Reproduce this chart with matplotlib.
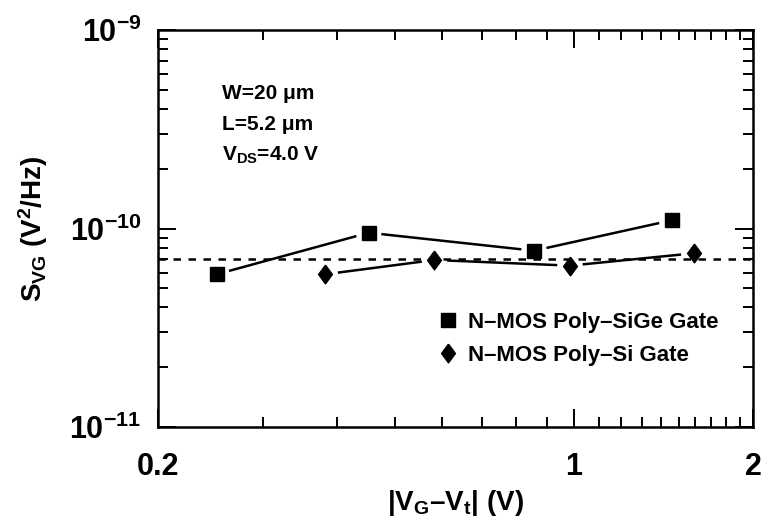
import numpy as np
import matplotlib
matplotlib.use("Agg")
import matplotlib.pyplot as plt
from matplotlib import font_manager
from matplotlib.ticker import FixedLocator, FixedFormatter, LogLocator, NullFormatter
from matplotlib.lines import Line2D

# pick a narrow bold sans if we have one
fam = "Liberation Sans"
try:
    font_manager.findfont("Liberation Sans Narrow", fallback_to_default=False)
    fam = "Liberation Sans Narrow"
except Exception:
    pass

plt.rcParams['font.family'] = [fam, 'DejaVu Sans']
plt.rcParams['font.weight'] = 'bold'
plt.rcParams['mathtext.fontset'] = 'custom'
plt.rcParams['mathtext.rm'] = fam + ':bold'
plt.rcParams['mathtext.it'] = fam + ':bold'
plt.rcParams['mathtext.bf'] = fam + ':bold'

# data
sige_x = [0.251, 0.452, 0.857, 1.46]
sige_y = [5.88e-11, 9.52e-11, 7.73e-11, 1.10e-10]
si_x = [0.382, 0.583, 0.985, 1.59]
si_y = [5.88e-11, 6.94e-11, 6.50e-11, 7.50e-11]
ref_level = 7.0e-11

x_ticks = [0.2, 1, 2]
x_tick_labels = ["0.2", "1", "2"]
x_minor = [0.3, 0.4, 0.5, 0.6, 0.7, 0.8, 0.9, 1.1, 1.2, 1.3, 1.4, 1.5, 1.6, 1.7, 1.8, 1.9]
y_ticks = [1e-11, 1e-10, 1e-9]
y_tick_labels = [r"$10^{-11}$", r"$10^{-10}$", r"$10^{-9}$"]

fig = plt.figure(figsize=(7.64, 5.27), dpi=100)
ax = fig.add_axes([158/764, 1-427/527, (753-158)/764, (427-30)/527])
ax.set_xscale('log')
ax.set_yscale('log')
ax.set_xlim(0.2, 2)
ax.set_ylim(1e-11, 1e-9)

diamond = [(0, 1), (0.74, 0), (0, -1), (-0.74, 0), (0, 1)]

ax.axhline(ref_level, color='black', lw=1.8, ls=(0, (3, 3)), zorder=1)


def gap_lines(xs, ys, gap=14):
    pts = ax.transData.transform(np.column_stack([xs, ys]))
    inv = ax.transData.inverted()
    for a, b in zip(pts[:-1], pts[1:]):
        d = b - a
        u = d / np.hypot(*d)
        seg = inv.transform(np.array([a + u*gap, b - u*gap]))
        ax.plot(seg[:, 0], seg[:, 1], color='black', lw=1.8, zorder=2)


gap_lines(sige_x, sige_y)
gap_lines(si_x, si_y)
ax.plot(sige_x, sige_y, ls='none', marker='s', ms=10, color='black', zorder=3)
ax.plot(si_x, si_y, ls='none', marker=diamond, ms=13.5, color='black', zorder=3)

ax.xaxis.set_major_locator(FixedLocator(x_ticks))
ax.xaxis.set_major_formatter(FixedFormatter(x_tick_labels))
ax.xaxis.set_minor_locator(FixedLocator(x_minor))
ax.xaxis.set_minor_formatter(NullFormatter())
ax.yaxis.set_major_locator(FixedLocator(y_ticks))
ax.yaxis.set_major_formatter(FixedFormatter(y_tick_labels))
ax.yaxis.set_minor_locator(LogLocator(base=10, subs=np.arange(2, 10)))
ax.yaxis.set_minor_formatter(NullFormatter())

ax.tick_params(which='both', direction='in', top=True, right=True, width=1.4)
ax.tick_params(which='major', length=13)
ax.tick_params(which='minor', length=7)
ax.tick_params(axis='x', which='major', pad=18, labelsize=22)
ax.tick_params(axis='y', which='major', pad=12, labelsize=22)
for s in ax.spines.values():
    s.set_linewidth(1.8)

ax.set_xlabel(r"|V$_G$–V$_t$| (V)", fontsize=20, fontweight='bold', labelpad=4)
ax.set_ylabel(r"S$_{VG}$ (V$^2$/Hz)", fontsize=20, fontweight='bold', labelpad=14)

ax.text(0.108, 0.841, "W=20 μm", transform=ax.transAxes, fontsize=15, va='center')
ax.text(0.108, 0.761, "L=5.2 μm", transform=ax.transAxes, fontsize=15, va='center')
ax.text(0.108, 0.683, r"V$_{DS}$=4.0 V", transform=ax.transAxes, fontsize=15, va='center')

handles = [Line2D([], [], ls='none', marker='s', ms=10, color='black'),
           Line2D([], [], ls='none', marker=diamond, ms=13.5, color='black')]
ax.legend(handles, ["N–MOS Poly–SiGe Gate", "N–MOS Poly–Si Gate"],
          loc='center left', bbox_to_anchor=(0.472, 0.222), frameon=False,
          fontsize=16, handlelength=0.8, handletextpad=0.5, labelspacing=0.55,
          borderpad=0, borderaxespad=0)

fig.savefig("out.png", dpi=100)
